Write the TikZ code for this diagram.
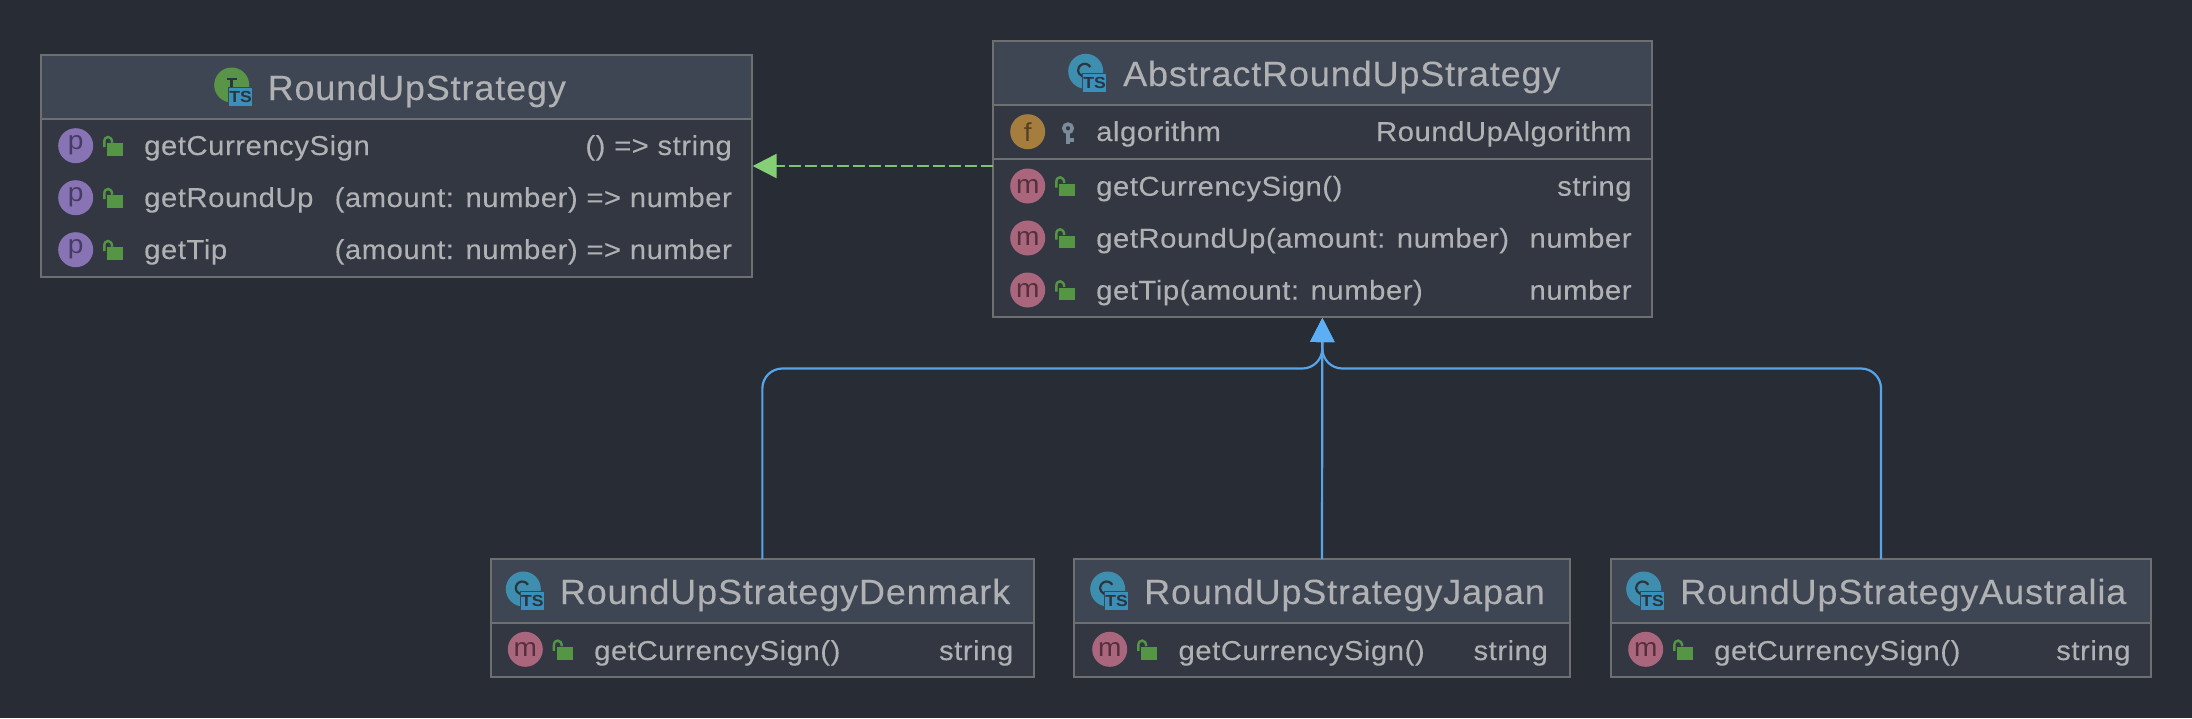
\documentclass[tikz,border=0pt]{standalone}
\usepackage{fontspec}
\setmainfont{Liberation Sans}
\newfontfamily\membfont[LetterSpace=2,FakeStretch=1.072,FakeBold=0.12]{Liberation Sans}
\newfontfamily\ttlfont[LetterSpace=2.5,FakeStretch=1.028,FakeBold=0.12]{Liberation Sans}
\newfontfamily\badgefont[FakeStretch=1.08]{Liberation Sans}
\newfontfamily\tsfont[FakeStretch=1.1]{Liberation Sans Bold}
\usetikzlibrary{arrows.meta}
\definecolor{bgc}{HTML}{282C34}
\definecolor{hdrc}{HTML}{3F4653}
\definecolor{bodyc}{HTML}{323742}
\definecolor{brdc}{HTML}{6E6F70}
\definecolor{txtc}{HTML}{B0B1B3}
\definecolor{pc}{HTML}{8873B4}
\definecolor{ptx}{HTML}{463C63}
\definecolor{mc}{HTML}{A9667C}
\definecolor{mtx}{HTML}{55303C}
\definecolor{fc}{HTML}{A57D3E}
\definecolor{ftx}{HTML}{554220}
\definecolor{lockc}{HTML}{549644}
\definecolor{clsc}{HTML}{3E8EAF}
\definecolor{intc}{HTML}{5A9447}
\definecolor{tsc}{HTML}{3A8FBB}
\definecolor{glyc}{HTML}{2B3540}
\definecolor{keyc}{HTML}{7C8B9A}
\definecolor{inhc}{HTML}{57A5E8}
\definecolor{inhh}{HTML}{5CAEF5}
\definecolor{impc}{HTML}{7EC46F}
\definecolor{imph}{HTML}{85CF76}
\tikzset{
  x=1pt,y=-1pt,
  boxfill/.style={rectangle,fill=bodyc,inner sep=0,outer sep=0},
  memb/.style={anchor=base west,inner sep=0,text=txtc,font=\membfont\fontsize{27.3}{30}\selectfont},
  membr/.style={anchor=base east,inner sep=0,text=txtc,font=\membfont\fontsize{27.3}{30}\selectfont},
  ttl/.style={anchor=base west,inner sep=0,text=txtc,font=\ttlfont\fontsize{35}{38}\selectfont},
  badge/.style={circle,minimum size=35pt,inner sep=0,outer sep=0,font=\badgefont\fontsize{26}{30}\selectfont},
  tsbox/.style={rectangle,fill=tsc,draw=hdrc,line width=1pt,minimum width=24pt,minimum height=19pt,inner sep=0,text=glyc,font=\tsfont\fontsize{16}{16}\selectfont},
  inh/.style={draw=inhc,line width=2.2pt,rounded corners=20pt,-{Triangle[length=24pt,width=24pt,color=inhh]},shorten >=1pt},
  impl/.style={draw=impc,line width=2.4pt,dash pattern=on 12pt off 4pt,-{Triangle[length=24pt,width=24pt,color=imph]},shorten >=1pt},
}
\newcommand{\umlbox}[7]{%
  \node[boxfill,minimum width={(#4-#2)*1pt},minimum height={(#5-#3)*1pt}] (#1) at ({(#2+#4)/2},{(#3+#5)/2}) {};
  \fill[hdrc] (#1.north west) rectangle (#4,#6);
  \draw[brdc,line width=2pt] (#2,#6) -- (#4,#6);
  #7
  \draw[brdc,line width=2pt] (#1.north west) rectangle (#1.south east);
}
\newcommand{\lockat}[2]{%
  \fill[lockc] (#1+31.6,#2-2.4) rectangle (#1+47.3,#2+10.3);
  \draw[lockc,line width=2.4pt] (#1+28.6,#2+1.5) -- (#1+28.6,#2-4) .. controls (#1+28.6,#2-10.5) and (#1+36.5,#2-10.5) .. (#1+36.5,#2-3);
}
\newcommand{\keyat}[2]{%
  \draw[keyc,line width=3.6pt] (#1,#2) circle[radius=4.2];
  \fill[keyc] (#1-2,#2+3) rectangle (#1+2,#2+16);
  \fill[keyc] (#1,#2+10) rectangle (#1+6,#2+13.5);
}
% name, x, y, fill, text, letter
\newcommand{\badgeat}[6]{\node[badge,fill=#4,text=#5] (#1) at (#2,#3) {#6};}
\newcommand{\clsicon}[3]{%
  \fill[clsc] (#2,#3) circle[radius=17.5];
  \draw[glyc,line width=2.2pt] (#2,#3) ++(-30:6.5) ++(-1,-1) arc[start angle=-30,end angle=-250,radius=6.5];
  \node[tsbox] (#1) at (#2+9,#3+11.7) {TS};
}
\newcommand{\inticon}[3]{%
  \fill[intc] (#2,#3) circle[radius=17.5];
  \fill[glyc] (#2-4.3,#3-6.7) rectangle (#2+5,#3-5);
  \fill[glyc] (#2-1.3,#3-6.7) rectangle (#2+1.3,#3+5);
  \node[tsbox] (#1) at (#2+9,#3+11.7) {TS};
}
\begin{document}
\begin{tikzpicture}
\useasboundingbox (0,0) rectangle (2192,718);
\fill[bgc] (0,0) rectangle (2192,718);

% RoundUpStrategy
\umlbox{rs}{41}{55}{751.7}{277}{119}{
  \inticon{rsI}{231.7}{85}
  \node[ttl] (rsT) at (267.5,100) {RoundUpStrategy};
  \badgeat{rsP1}{75.7}{145.7}{pc}{ptx}{p}\lockat{75.7}{145.7}
  \badgeat{rsP2}{75.7}{197.7}{pc}{ptx}{p}\lockat{75.7}{197.7}
  \badgeat{rsP3}{75.7}{249.7}{pc}{ptx}{p}\lockat{75.7}{249.7}
  \node[memb] (rsA) at (144,155) {getCurrencySign};
  \node[memb] (rsB) at (144,207) {getRoundUp};
  \node[memb] (rsC) at (144,259) {getTip};
  \node[membr] (rsAt) at (732,155) {() => string};
  \node[membr] (rsBt) at (732,207) {(amount: number) => number};
  \node[membr] (rsCt) at (732,259) {(amount: number) => number};
}

% AbstractRoundUpStrategy
\umlbox{ab}{993}{41}{1651.7}{317}{105}{
  \clsicon{abI}{1085.7}{71.3}
  \node[ttl] (abT) at (1123,86) {AbstractRoundUpStrategy};
  \draw[brdc,line width=2pt] (993,158.7) -- (1651.7,158.7);
  \badgeat{abF}{1027.7}{131.7}{fc}{ftx}{f}\keyat{1068}{128.3}
  \badgeat{abM1}{1027.7}{186}{mc}{mtx}{m}\lockat{1027.7}{186}
  \badgeat{abM2}{1027.7}{238}{mc}{mtx}{m}\lockat{1027.7}{238}
  \badgeat{abM3}{1027.7}{290}{mc}{mtx}{m}\lockat{1027.7}{290}
  \node[memb] (abA) at (1096,141) {algorithm};
  \node[memb] (abB) at (1096,195.7) {getCurrencySign()};
  \node[memb] (abC) at (1096,247.7) {getRoundUp(amount: number)};
  \node[memb] (abD) at (1096,299.7) {getTip(amount: number)};
  \node[membr] (abAt) at (1631.7,141) {RoundUpAlgorithm};
  \node[membr] (abBt) at (1631.7,195.7) {string};
  \node[membr] (abCt) at (1631.7,247.7) {number};
  \node[membr] (abDt) at (1631.7,299.7) {number};
}

% Denmark
\umlbox{de}{491}{559}{1033.7}{677}{622.7}{
  \clsicon{deI}{523.3}{589}
  \node[ttl] (deT) at (559.7,604) {RoundUpStrategyDenmark};
  \badgeat{deM}{525.3}{649.3}{mc}{mtx}{m}\lockat{525.3}{649.3}
  \node[memb] (deA) at (594,660) {getCurrencySign()};
  \node[membr] (deAt) at (1013.5,660) {string};
}
% Japan
\umlbox{ja}{1074.3}{559}{1569.7}{677}{622.7}{
  \clsicon{jaI}{1107.7}{589}
  \node[ttl] (jaT) at (1144,604) {RoundUpStrategyJapan};
  \badgeat{jaM}{1109.7}{649.3}{mc}{mtx}{m}\lockat{1109.7}{649.3}
  \node[memb] (jaA) at (1178.3,660) {getCurrencySign()};
  \node[membr] (jaAt) at (1548,660) {string};
}
% Australia
\umlbox{au}{1610.7}{559}{2151.3}{677}{622.7}{
  \clsicon{auI}{1643.7}{589}
  \node[ttl] (auT) at (1680,604) {RoundUpStrategyAustralia};
  \badgeat{auM}{1645.7}{649.3}{mc}{mtx}{m}\lockat{1645.7}{649.3}
  \node[memb] (auA) at (1714,660) {getCurrencySign()};
  \node[membr] (auAt) at (2130.7,660) {string};
}

% Connectors
\coordinate (busL) at (762.3,368.5);
\coordinate (busR) at (1881,368.5);
\coordinate (busM) at (1322.3,368.5);
\path[impl] (ab.west |- rs.east) -- (rs.east);
\path[inh] (ja.north) -- (ab.south);
\path[inh] (de.north) -- (de.north |- busL) -- (busM) -- (ab.south);
\path[inh] (au.north) -- (au.north |- busR) -- (busM) -- (ab.south);
\end{tikzpicture}
\end{document}
